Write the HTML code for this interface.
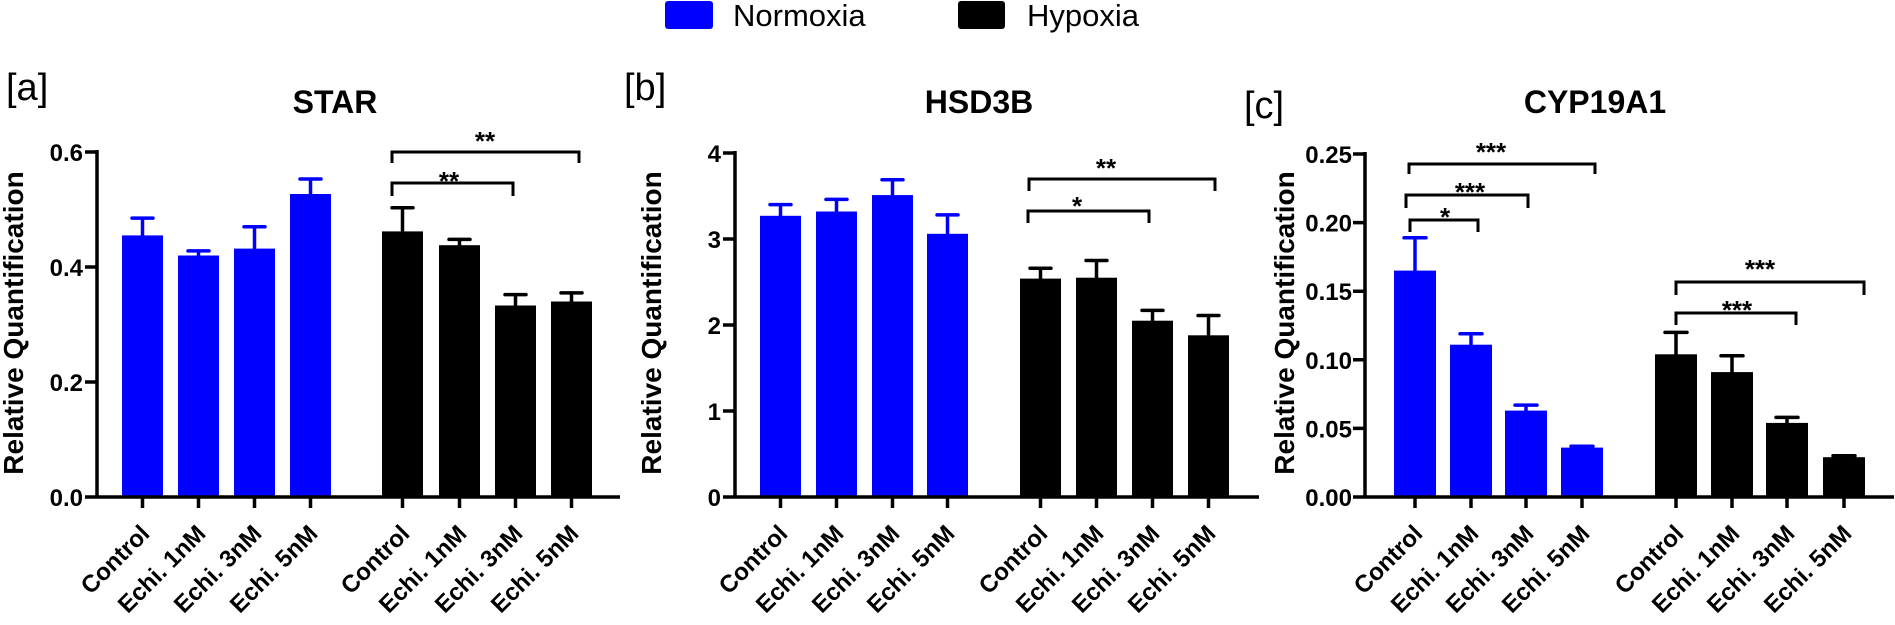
<!DOCTYPE html>
<html><head><meta charset="utf-8"><style>
html,body{margin:0;padding:0;background:#fff;}
svg{display:block;}
text{font-family:"Liberation Sans",Arial,sans-serif;}
.t{font-weight:bold;font-size:24px;text-anchor:end;}
.xl{font-weight:bold;font-size:24px;text-anchor:end;}
.ti{font-weight:bold;font-size:32px;text-anchor:middle;}
.yt{font-weight:bold;font-size:28px;text-anchor:middle;}
.pl{font-size:38px;}
.st{font-weight:bold;font-size:26px;text-anchor:middle;}
.ax{stroke:#000;stroke-width:3.5;fill:none;}
.eb{stroke-width:3.5;stroke-linecap:round;fill:none;}
.br{stroke:#000;stroke-width:3;fill:none;}
</style></head><body>
<svg width="1895" height="625" viewBox="0 0 1895 625" xmlns="http://www.w3.org/2000/svg">
<!-- Legend -->
<rect x="665" y="1" width="48" height="28" rx="3" fill="#0000ff"/>
<text x="733" y="26" font-size="31">Normoxia</text>
<rect x="958" y="1" width="47" height="28" rx="3" fill="#000"/>
<text x="1027" y="26" font-size="31">Hypoxia</text>

<!-- ================= Panel a ================= -->
<text class="pl" x="6" y="100">[a]</text>
<text class="ti" x="335" y="113">STAR</text>
<text class="yt" transform="translate(23,323) rotate(-90)">Relative Quantification</text>
<g fill="#0000ff">
<rect x="122" y="235.4" width="41" height="261.6"/>
<rect x="178" y="255.5" width="41" height="241.5"/>
<rect x="234" y="248.6" width="41" height="248.4"/>
<rect x="290" y="194" width="41" height="303"/>
</g>
<g fill="#000">
<rect x="382" y="231.4" width="41" height="265.6"/>
<rect x="439" y="245.2" width="41" height="251.8"/>
<rect x="495" y="305.5" width="41" height="191.5"/>
<rect x="551" y="301.5" width="41" height="195.5"/>
</g>
<g class="eb" stroke="#0000ff">
<path d="M142.5 235.4V218.1M132 218.1H153"/>
<path d="M198.5 255.5V250.9M188 250.9H209"/>
<path d="M254.5 248.6V226.8M244 226.8H265"/>
<path d="M310.5 194V179M300 179H321"/>
</g>
<g class="eb" stroke="#000">
<path d="M402.5 231.4V207.8M392 207.8H413"/>
<path d="M459.5 245.2V239.4M449 239.4H470"/>
<path d="M515.5 305.5V294.6M505 294.6H526"/>
<path d="M571.5 301.5V292.9M561 292.9H582"/>
</g>
<path class="ax" d="M97 150V497M85 152H97M85 267H97M85 382H97M85 497H97M95 497H620"/>
<path class="ax" d="M142.5 497V508M198.5 497V508M254.5 497V508M310.5 497V508M402.5 497V508M459.5 497V508M515.5 497V508M571.5 497V508"/>
<text class="t" x="83" y="161">0.6</text>
<text class="t" x="83" y="276">0.4</text>
<text class="t" x="83" y="391">0.2</text>
<text class="t" x="83" y="506">0.0</text>
<path class="br" d="M392 196V183H513V196"/>
<text class="st" x="449" y="190">**</text>
<path class="br" d="M392 163V152H579V163"/>
<text class="st" x="485" y="150">**</text>
<g class="xl">
<text transform="translate(151,535) rotate(-45)">Control</text>
<text transform="translate(207,535) rotate(-45)">Echi. 1nM</text>
<text transform="translate(263,535) rotate(-45)">Echi. 3nM</text>
<text transform="translate(319,535) rotate(-45)">Echi. 5nM</text>
<text transform="translate(411,535) rotate(-45)">Control</text>
<text transform="translate(468,535) rotate(-45)">Echi. 1nM</text>
<text transform="translate(524,535) rotate(-45)">Echi. 3nM</text>
<text transform="translate(580,535) rotate(-45)">Echi. 5nM</text>
</g>

<!-- ================= Panel b ================= -->
<text class="pl" x="624" y="100">[b]</text>
<text class="ti" x="979" y="113">HSD3B</text>
<text class="yt" transform="translate(661,323) rotate(-90)">Relative Quantification</text>
<g fill="#0000ff">
<rect x="760" y="215.8" width="41" height="281.2"/>
<rect x="816" y="211.5" width="41" height="285.5"/>
<rect x="872" y="195.1" width="41" height="301.9"/>
<rect x="927" y="233.8" width="41" height="263.2"/>
</g>
<g fill="#000">
<rect x="1020" y="278.6" width="41" height="218.4"/>
<rect x="1076" y="277.7" width="41" height="219.3"/>
<rect x="1132" y="320.7" width="41" height="176.3"/>
<rect x="1188" y="335.3" width="41" height="161.7"/>
</g>
<g class="eb" stroke="#0000ff">
<path d="M780.5 215.8V204.6M770 204.6H791"/>
<path d="M836.5 211.5V199.4M826 199.4H847"/>
<path d="M892.5 195.1V179.7M882 179.7H903"/>
<path d="M947.5 233.8V214.9M937 214.9H958"/>
</g>
<g class="eb" stroke="#000">
<path d="M1040.5 278.6V268.2M1030 268.2H1051"/>
<path d="M1096.5 277.7V260.5M1086 260.5H1107"/>
<path d="M1152.5 320.7V310.4M1142 310.4H1163"/>
<path d="M1208.5 335.3V315.5M1198 315.5H1219"/>
</g>
<path class="ax" d="M735 151V497M723 153H735M723 239H735M723 325H735M723 411H735M723 497H735M733 497H1259"/>
<path class="ax" d="M780.5 497V508M836.5 497V508M892.5 497V508M947.5 497V508M1040.5 497V508M1096.5 497V508M1152.5 497V508M1208.5 497V508"/>
<text class="t" x="721" y="162">4</text>
<text class="t" x="721" y="248">3</text>
<text class="t" x="721" y="334">2</text>
<text class="t" x="721" y="420">1</text>
<text class="t" x="721" y="506">0</text>
<path class="br" d="M1028 223V211H1149V223"/>
<text class="st" x="1077" y="215">*</text>
<path class="br" d="M1029 191V179H1215V191"/>
<text class="st" x="1106" y="177">**</text>
<g class="xl">
<text transform="translate(789,535) rotate(-45)">Control</text>
<text transform="translate(845,535) rotate(-45)">Echi. 1nM</text>
<text transform="translate(901,535) rotate(-45)">Echi. 3nM</text>
<text transform="translate(956,535) rotate(-45)">Echi. 5nM</text>
<text transform="translate(1049,535) rotate(-45)">Control</text>
<text transform="translate(1105,535) rotate(-45)">Echi. 1nM</text>
<text transform="translate(1161,535) rotate(-45)">Echi. 3nM</text>
<text transform="translate(1217,535) rotate(-45)">Echi. 5nM</text>
</g>

<!-- ================= Panel c ================= -->
<text class="pl" x="1244" y="118">[c]</text>
<text class="ti" x="1595" y="113">CYP19A1</text>
<text class="yt" transform="translate(1294,323) rotate(-90)">Relative Quantification</text>
<g fill="#0000ff">
<rect x="1394" y="270.6" width="42" height="226.4"/>
<rect x="1450" y="344.7" width="42" height="152.3"/>
<rect x="1505" y="410.6" width="42" height="86.4"/>
<rect x="1561" y="447.6" width="42" height="49.4"/>
</g>
<g fill="#000">
<rect x="1655" y="354.3" width="42" height="142.7"/>
<rect x="1711" y="372.1" width="42" height="124.9"/>
<rect x="1766" y="422.9" width="42" height="74.1"/>
<rect x="1823" y="457.2" width="42" height="39.8"/>
</g>
<g class="eb" stroke="#0000ff">
<path d="M1415 270.6V237.7M1404 237.7H1426"/>
<path d="M1471 344.7V333.7M1460 333.7H1482"/>
<path d="M1526 410.6V405.1M1515 405.1H1537"/>
<path d="M1582 447.6V446.2M1571 446.2H1593"/>
</g>
<g class="eb" stroke="#000">
<path d="M1676 354.3V332.4M1665 332.4H1687"/>
<path d="M1732 372.1V355.7M1721 355.7H1743"/>
<path d="M1787 422.9V417.4M1776 417.4H1798"/>
<path d="M1844 457.2V455.8M1833 455.8H1855"/>
</g>
<path class="ax" d="M1365 152V497M1353 154H1365M1353 222.6H1365M1353 291.2H1365M1353 359.8H1365M1353 428.4H1365M1353 497H1365M1363 497H1894"/>
<path class="ax" d="M1415 497V508M1471 497V508M1526 497V508M1582 497V508M1676 497V508M1732 497V508M1787 497V508M1844 497V508"/>
<text class="t" x="1352" y="163">0.25</text>
<text class="t" x="1352" y="231.6">0.20</text>
<text class="t" x="1352" y="300.2">0.15</text>
<text class="t" x="1352" y="368.8">0.10</text>
<text class="t" x="1352" y="437.4">0.05</text>
<text class="t" x="1352" y="506">0.00</text>
<path class="br" d="M1410 232V220H1478V232"/>
<text class="st" x="1445" y="226">*</text>
<path class="br" d="M1406 208V195H1528V208"/>
<text class="st" x="1470" y="201">***</text>
<path class="br" d="M1409 174V164H1595V174"/>
<text class="st" x="1491" y="161">***</text>
<path class="br" d="M1676 325V313H1796V325"/>
<text class="st" x="1737" y="319">***</text>
<path class="br" d="M1676 295V282H1864V295"/>
<text class="st" x="1760" y="278">***</text>
<g class="xl">
<text transform="translate(1424,535) rotate(-45)">Control</text>
<text transform="translate(1480,535) rotate(-45)">Echi. 1nM</text>
<text transform="translate(1535,535) rotate(-45)">Echi. 3nM</text>
<text transform="translate(1591,535) rotate(-45)">Echi. 5nM</text>
<text transform="translate(1685,535) rotate(-45)">Control</text>
<text transform="translate(1741,535) rotate(-45)">Echi. 1nM</text>
<text transform="translate(1796,535) rotate(-45)">Echi. 3nM</text>
<text transform="translate(1853,535) rotate(-45)">Echi. 5nM</text>
</g>
</svg>
</body></html>
